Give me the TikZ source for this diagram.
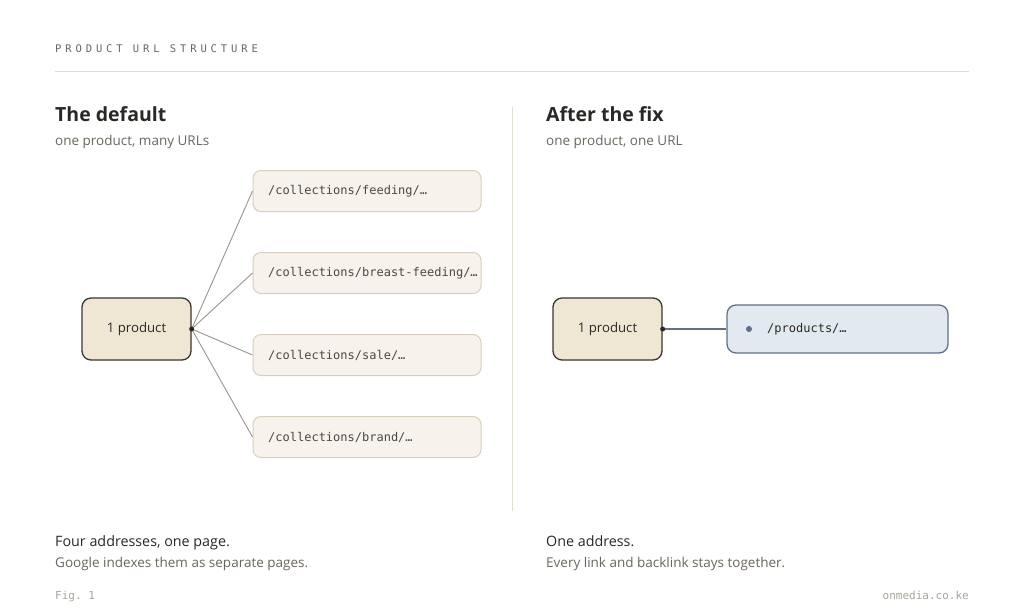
\documentclass[tikz,border=0pt]{standalone}
\usepackage{fontspec}
\setmainfont{Open Sans}
\setsansfont{Open Sans}
\setmonofont{DejaVu Sans Mono}
\newfontfamily\spacedmono[LetterSpace=37]{DejaVu Sans Mono}
\definecolor{ink}{HTML}{2A2825}
\definecolor{muted}{HTML}{6B665E}
\definecolor{faint}{HTML}{A9A398}
\definecolor{rule}{HTML}{E2DDD1}
\definecolor{prodfill}{HTML}{EFE7D3}
\definecolor{prodedge}{HTML}{3A3630}
\definecolor{urlfill}{HTML}{F7F3EC}
\definecolor{urledge}{HTML}{D8CFBE}
\definecolor{linkgray}{HTML}{9A958B}
\definecolor{bluefill}{HTML}{E3E9F0}
\definecolor{blueedge}{HTML}{5F7187}
\begin{document}
\begin{tikzpicture}[x=1pt,y=-1pt,
  prodbox/.style={draw=prodedge,fill=prodfill,line width=1.3pt,rounded corners=9pt,minimum width=109pt,minimum height=62pt,inner sep=0pt,font=\fontsize{13.2}{15}\selectfont,text=ink},
  urlbox/.style={draw=urledge,fill=urlfill,line width=1pt,rounded corners=8pt,minimum width=228pt,minimum height=41pt,inner sep=0pt},
  urltext/.style={anchor=west,font=\ttfamily\fontsize{12}{14}\selectfont,text=ink!85,inner sep=0pt},
  heading/.style={anchor=base west,font=\bfseries\fontsize{19.5}{24}\selectfont,text=ink,inner sep=0pt},
  sub/.style={anchor=base west,font=\fontsize{13.5}{16}\selectfont,text=muted,inner sep=0pt},
  lead/.style={anchor=base west,font=\fontsize{14.3}{16}\selectfont,text=ink,inner sep=0pt},
  link/.style={draw=linkgray,line width=0.9pt},
  dot/.style={circle,fill=ink,inner sep=0pt,minimum size=5pt},
  foot/.style={font=\ttfamily\fontsize{11}{12}\selectfont,text=faint,inner sep=0pt}]
\useasboundingbox[fill=white] (0,0) rectangle (1024,614);
% header
\node[anchor=base west,inner sep=0pt,font=\spacedmono\fontsize{10.5}{12}\selectfont,text=muted] (title) at (55,52) {PRODUCT URL STRUCTURE};
\coordinate (hl) at (55,71); \coordinate (hr) at (969,71);
\draw[rule,line width=1pt] (hl) -- (hr);
\coordinate (vt) at (512,107); \coordinate (vb) at (512,511);
\draw[rule,line width=1pt] (vt) -- (vb);
% left
\node[heading] (h1) at (55,121) {The default};
\node[sub] (s1) at (55,145) {one product, many URLs};
\node[prodbox] (p1) at (136.5,329) {1 product};
\node[urlbox] (u1) at (367,191) {};
\node[urlbox] (u2) at (367,273) {};
\node[urlbox] (u3) at (367,355) {};
\node[urlbox] (u4) at (367,437) {};
\node[urltext] (t1) at (268,191) {/collections/feeding/…};
\node[urltext] (t2) at (268,273) {/collections/breast-feeding/…};
\node[urltext] (t3) at (268,355) {/collections/sale/…};
\node[urltext] (t4) at (268,437) {/collections/brand/…};
\coordinate (d1) at (p1.east);
\foreach \u in {u1,u2,u3,u4} \draw[link] (d1) -- (\u.west);
\node[dot] (dd1) at (d1) {};
% right
\node[heading] (h2) at (546,121) {After the fix};
\node[sub] (s2) at (546,145) {one product, one URL};
\node[prodbox] (p2) at (607.5,329) {1 product};
\node[draw=blueedge,fill=bluefill,line width=1.3pt,rounded corners=9pt,minimum width=221pt,minimum height=48pt,inner sep=0pt] (b) at (837.5,329) {};
\node[circle,fill=blueedge,inner sep=0pt,minimum size=6pt] (bd) at (749,329) {};
\node[urltext,text=ink] (bt) at (767,329) {/products/…};
\draw[draw=blueedge,line width=1.1pt] (p2.east) -- (b.west);
\node[dot] (dd2) at (p2.east) {};
% bottom
\node[lead] (l1) at (55,546) {Four addresses, one page.};
\node[sub] (l2) at (55,567) {Google indexes them as separate pages.};
\node[lead] (r1) at (546,546) {One address.};
\node[sub] (r2) at (546,567) {Every link and backlink stays together.};
\node[foot,anchor=base west] (fig) at (55,599) {Fig. 1};
\node[foot,anchor=base east] (site) at (969,599) {onmedia.co.ke};
\end{tikzpicture}
\end{document}
